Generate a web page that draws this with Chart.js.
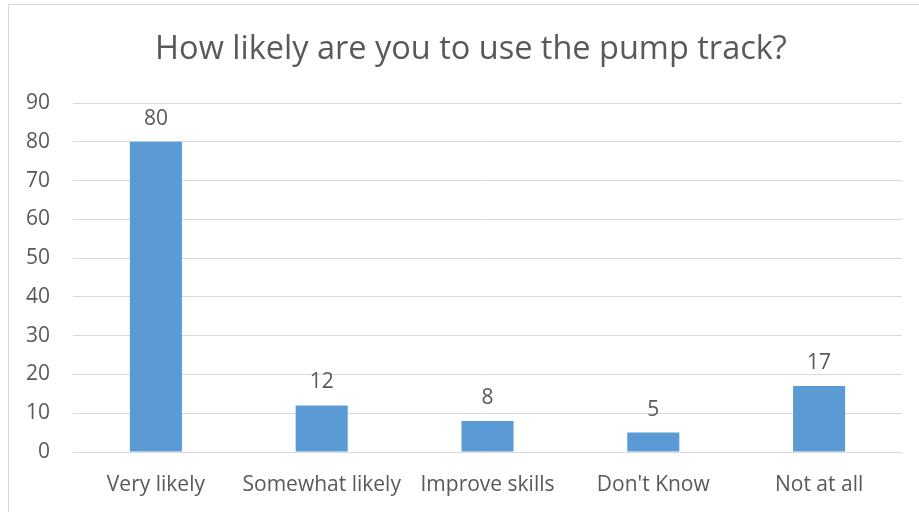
<!DOCTYPE html>
<html>
<head>
<meta charset="utf-8">
<script src="https://cdn.jsdelivr.net/npm/chart.js@4.4.1/dist/chart.umd.min.js"></script>
<style>
  html, body { margin: 0; padding: 0; background: #fff; overflow: hidden; }
  #frame {
    position: absolute; left: 8px; top: 4px; width: 1000px; height: 1000px;
    border-left: 1px solid #d9d9d9; border-top: 1px solid #d9d9d9;
  }
  /* the chart runs a little past the right edge of the window */
  #wrap { position: absolute; left: 0; top: 0; width: 942px; height: 512px; }
</style>
</head>
<body>
<div id="frame"></div>
<div id="wrap"><canvas id="chart"></canvas></div>
<script>
// Survey answers and response counts
const categories = ["Very likely", "Somewhat likely", "Improve skills", "Don't Know", "Not at all"];
const responses = [80, 12, 8, 5, 17];
const yTicks = [0, 10, 20, 30, 40, 50, 60, 70, 80, 90];
const chartTitle = "How likely are you to use the pump track?";

const TEXT = "#595959";
const FONT = "'Open Sans', 'Liberation Sans', sans-serif";

// Title centred over the whole chart frame (canvas width), not only the plot
const frameTitle = {
  id: "frameTitle",
  afterDraw(chart) {
    const ctx = chart.ctx;
    ctx.save();
    ctx.fillStyle = TEXT;
    ctx.font = "32.5px " + FONT;
    ctx.textAlign = "center";
    ctx.textBaseline = "alphabetic";
    ctx.fillText(chartTitle, chart.width / 2, 59);
    ctx.restore();
  }
};

// Writes each bar's count just above it
const barValueLabels = {
  id: "barValueLabels",
  afterDatasetsDraw(chart) {
    const ctx = chart.ctx;
    const meta = chart.getDatasetMeta(0);
    ctx.save();
    ctx.fillStyle = TEXT;
    ctx.font = "21px " + FONT;
    ctx.textAlign = "center";
    ctx.textBaseline = "alphabetic";
    meta.data.forEach((bar, i) => {
      ctx.fillText(String(chart.data.datasets[0].data[i]), bar.x, bar.y - 17);
    });
    ctx.restore();
  }
};

new Chart(document.getElementById("chart"), {
  type: "bar",
  data: {
    labels: categories,
    datasets: [{
      data: responses,
      backgroundColor: "#5b9bd5",
      borderWidth: 0,
      barPercentage: 0.314,
      categoryPercentage: 1.0
    }]
  },
  options: {
    responsive: true,
    maintainAspectRatio: false,
    animation: false,
    layout: { padding: { left: 0, right: 40, top: 103, bottom: 0 } },
    plugins: {
      legend: { display: false },
      tooltip: { enabled: false },
      title: { display: false }
    },
    scales: {
      x: {
        grid: { display: false, drawTicks: false },
        border: { display: false },
        ticks: { color: TEXT, font: { family: FONT, size: 21 }, padding: 20, maxRotation: 0 },
        afterFit(scale) { scale.height = 60; }
      },
      y: {
        min: 0,
        max: 90,
        afterBuildTicks(scale) { scale.ticks = yTicks.map(v => ({ value: v })); },
        grid: { color: "#d9d9d9", lineWidth: 1, drawTicks: false },
        border: { display: false },
        ticks: { color: TEXT, font: { family: FONT, size: 21 }, padding: 23 },
        afterFit(scale) { scale.width = 73; }
      }
    }
  },
  plugins: [barValueLabels, frameTitle]
});
</script>
</body>
</html>
